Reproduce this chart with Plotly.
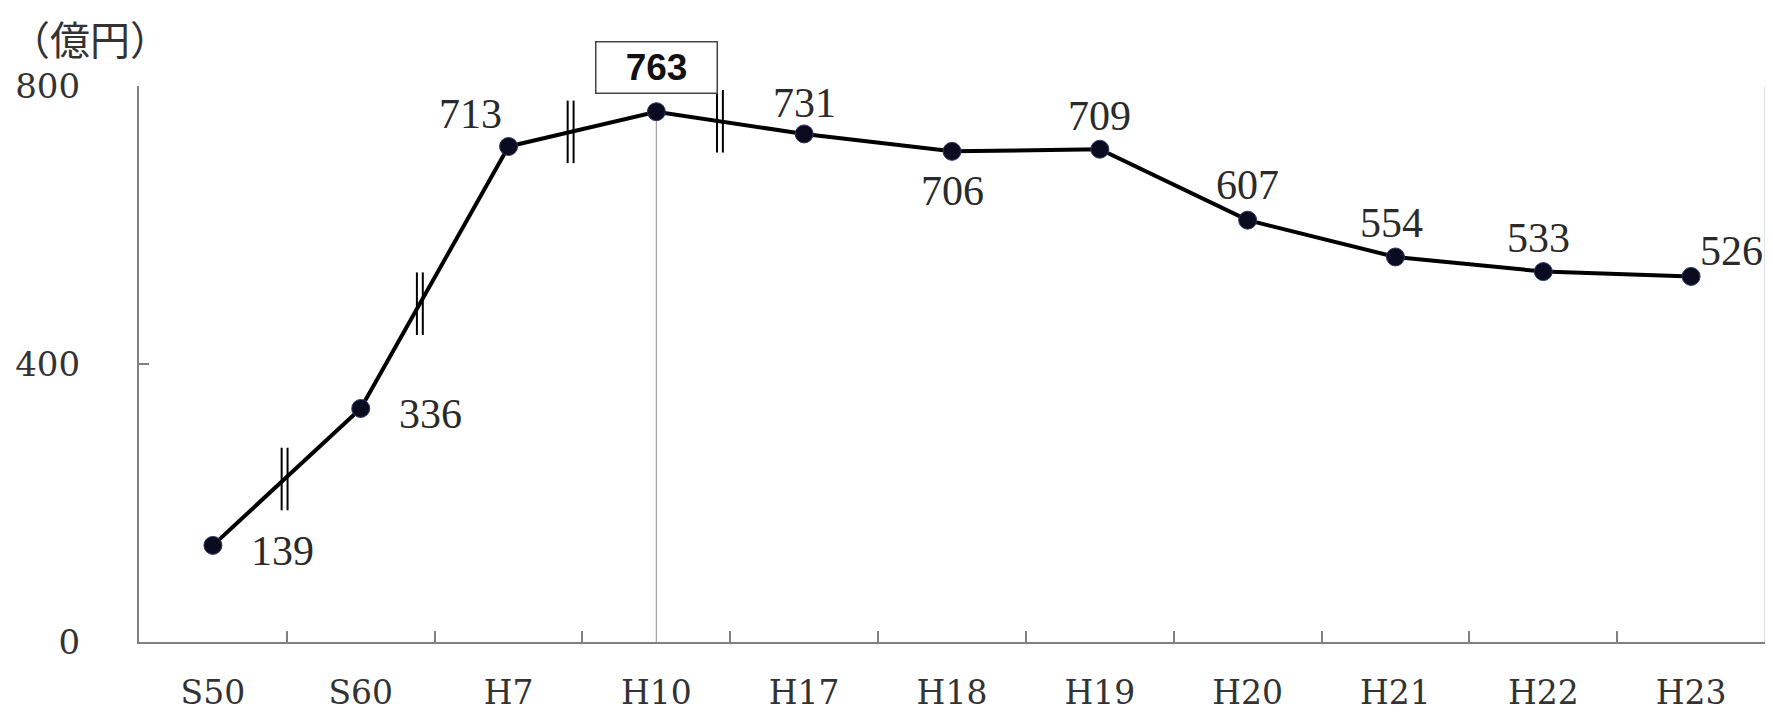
import plotly.graph_objects as go
import numpy as np

categories = ["S50", "S60", "H7", "H10", "H17", "H18", "H19", "H20", "H21", "H22", "H23"]
values = [139, 336, 713, 763, 731, 706, 709, 607, 554, 533, 526]
y_ticks = [0, 400, 800]
unit_label = "（億円）"
peak_index = 3

# label offsets in pixels (dx, dy) relative to each point (plotly: +dy is up)
label_offsets = [(70, -6), (70, -6), (-38, 32), (0, 0), (0, 31), (0, -40),
                 (0, 33), (0, 35), (-4, 34), (-5, 34), (40, 25)]
# positions (category index units) of the "||" scale break marks
break_pos = [0.485, 1.40, 2.42, 3.43]

fig = go.Figure()

# vertical guide line at peak
fig.add_shape(type="line", xref="x", yref="y",
              x0=peak_index, x1=peak_index, y0=0, y1=values[peak_index],
              line=dict(color="#a0a0a0", width=1.2), layer="below")

fig.add_trace(go.Scatter(
    x=list(range(len(categories))), y=values, mode="lines+markers",
    line=dict(color="#000000", width=4.0),
    marker=dict(size=18, color="#0b0b20", line=dict(color="#2a3a6a", width=1)),
    cliponaxis=False, hoverinfo="skip", showlegend=False,
))

# data labels
for i, (v, (dx, dy)) in enumerate(zip(values, label_offsets)):
    if i == peak_index:
        continue
    fig.add_annotation(x=i, y=v, xref="x", yref="y", text=str(v), showarrow=False,
                       xshift=dx, yshift=dy,
                       font=dict(family="Liberation Serif", size=42, color="#2a2a2a"))

# boxed peak label
fig.add_annotation(x=peak_index, y=values[peak_index], xref="x", yref="y",
                   text="<b>%d</b>" % values[peak_index], showarrow=False,
                   yshift=44, width=116, height=46,
                   bordercolor="#444444", borderwidth=1.5, borderpad=2,
                   bgcolor="white",
                   font=dict(family="Liberation Sans", size=37, color="#111111"))

# break marks
xs = np.arange(len(values))
for bp in break_pos:
    yc = float(np.interp(bp, xs, values))
    for off in (-0.02, 0.02):
        fig.add_shape(type="line", xref="x", yref="y",
                      x0=bp + off, x1=bp + off, y0=yc - 45, y1=yc + 45,
                      line=dict(color="#000000", width=2))

# right faint border
fig.add_shape(type="line", xref="paper", yref="paper", x0=1, x1=1, y0=0, y1=1,
              line=dict(color="#d8d8d8", width=1.5))

# unit label
fig.add_annotation(x=0, y=1, xref="paper", yref="paper", xanchor="left", yanchor="top",
                   text=unit_label, showarrow=False, xshift=-131, yshift=79,
                   font=dict(family="Noto Sans CJK JP", size=40, color="#333333"))

fig.update_xaxes(
    type="category", range=[-0.5, len(categories) - 0.5],
    tickvals=list(range(len(categories))), ticktext=categories,
    tickson="boundaries", ticks="inside", ticklen=11, tickwidth=1.5, tickcolor="#808080",
    showline=True, linecolor="#808080", linewidth=2.2, automargin=False,
    showgrid=False, zeroline=False, ticklabelstandoff=20,
    tickfont=dict(family="DejaVu Serif", size=33, color="#333333"),
)
fig.update_yaxes(
    range=[0, 800], tickvals=y_ticks, ticks="inside", ticklen=10, tickwidth=1.5,
    tickcolor="#808080", showline=True, linecolor="#808080", linewidth=2.2,
    automargin=False,
    showgrid=False, zeroline=False, ticklabelstandoff=50,
    tickfont=dict(family="DejaVu Serif", size=34, color="#333333"),
)

fig.update_layout(
    width=1773, height=723,
    margin=dict(l=131, r=16, t=78, b=89),
    paper_bgcolor="white", plot_bgcolor="white",
)

fig.write_html("out.html")
